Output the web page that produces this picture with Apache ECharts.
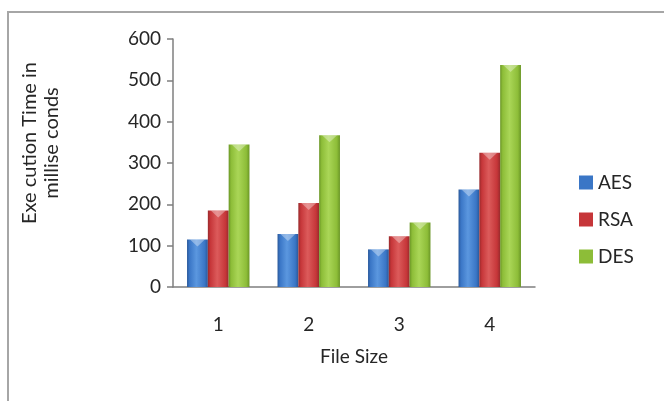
<!DOCTYPE html>
<html>
<head>
<meta charset="utf-8">
<script src="https://cdn.jsdelivr.net/npm/echarts@6/dist/echarts.min.js"></script>
<style>
  html, body { margin: 0; padding: 0; background: #fff; }
  #chart { width: 664px; height: 401px; }
</style>
</head>
<body>
<div id="chart"></div>
<script>
// File sizes on the x axis and the execution times per algorithm
const fileSizes = ['1', '2', '3', '4'];
const aesTimes = [115, 128, 91, 236];
const rsaTimes = [185, 203, 123, 325];
const desTimes = [345, 367, 156, 537];
const seriesNames = ['AES', 'RSA', 'DES'];

const FONT = 'Lato, "Open Sans", sans-serif';
const TEXT = '#262626';

// horizontal shading that gives each bar a rounded, glossy look
function barShade(dark, mid, light) {
  return new echarts.graphic.LinearGradient(0, 0, 1, 0, [
    { offset: 0, color: dark },
    { offset: 0.12, color: mid },
    { offset: 0.45, color: light },
    { offset: 0.85, color: mid },
    { offset: 1, color: dark }
  ]);
}

const palette = [
  barShade('#2a5899', '#3a76c6', '#5b97df'),
  barShade('#982a2c', '#c63639', '#dc5b5b'),
  barShade('#6a9626', '#8dbd38', '#aad657')
];
const legendColors = ['#3a76c6', '#c63639', '#8dbd38'];

function barSeries(name, data, i) {
  return {
    name: name,
    type: 'bar',
    data: data,
    barGap: '0%',
    barCategoryGap: '31%',
    itemStyle: { color: palette[i] },
    emphasis: { disabled: true }
  };
}

// light bevel wedge on top of every bar
function bevelSeries(name, data) {
  return {
    name: name,
    type: 'pictorialBar',
    data: data,
    barGap: '0%',
    barCategoryGap: '31%',
    symbol: 'triangle',
    symbolRotate: 180,
    symbolPosition: 'end',
    symbolSize: [15, 7],
    symbolOffset: [0, 0],
    itemStyle: { color: 'rgba(255,255,255,0.35)' },
    z: 3,
    silent: true,
    legendHoverLink: false
  };
}

const chart = echarts.init(document.getElementById('chart'));
chart.setOption({
  animation: false,
  color: legendColors,
  grid: { left: 173, right: 129, top: 39, bottom: 114 },
  legend: {
    orient: 'vertical',
    left: 574,
    top: 168,
    itemWidth: 14,
    itemHeight: 14,
    itemGap: 18,
    icon: 'rect',
    textStyle: { fontFamily: FONT, fontSize: 19, color: TEXT, padding: [0, 0, 0, 0] },
    data: seriesNames.map((n, i) => ({ name: n, itemStyle: { color: legendColors[i] } }))
  },
  xAxis: {
    type: 'category',
    data: fileSizes,
    name: 'File Size',
    nameLocation: 'middle',
    nameGap: 60,
    nameTextStyle: { fontFamily: FONT, fontSize: 19, color: TEXT },
    axisLine: { lineStyle: { color: '#7f7f7f', width: 1.5 } },
    axisTick: { length: 6, lineStyle: { color: '#7f7f7f', width: 1.5 } },
    axisLabel: { margin: 28, fontFamily: FONT, fontSize: 19, color: TEXT }
  },
  yAxis: {
    type: 'value',
    min: 0,
    max: 600,
    interval: 100,
    splitLine: { show: false },
    axisLine: { show: true, lineStyle: { color: '#7f7f7f', width: 1.5 } },
    axisTick: { show: true, length: 6, lineStyle: { color: '#7f7f7f', width: 1.5 } },
    axisLabel: { margin: 12, fontFamily: FONT, fontSize: 19, color: TEXT }
  },
  graphic: [
    {
      type: 'rect',
      shape: { x: 8, y: 12, width: 680, height: 420 },
      style: { fill: null, stroke: '#a6a6a6', lineWidth: 2 },
      silent: true
    },
    {
      type: 'text',
      x: 41,
      y: 143,
      rotation: Math.PI / 2,
      style: {
        text: 'Exe cution Time in\nmillise conds',
        fontFamily: FONT,
        fontSize: 20,
        lineHeight: 22,
        fill: TEXT,
        align: 'center',
        verticalAlign: 'middle'
      }
    }
  ],
  series: [
    barSeries('AES', aesTimes, 0),
    barSeries('RSA', rsaTimes, 1),
    barSeries('DES', desTimes, 2),
    bevelSeries('AES bevel', aesTimes),
    bevelSeries('RSA bevel', rsaTimes),
    bevelSeries('DES bevel', desTimes)
  ]
});
</script>
</body>
</html>
